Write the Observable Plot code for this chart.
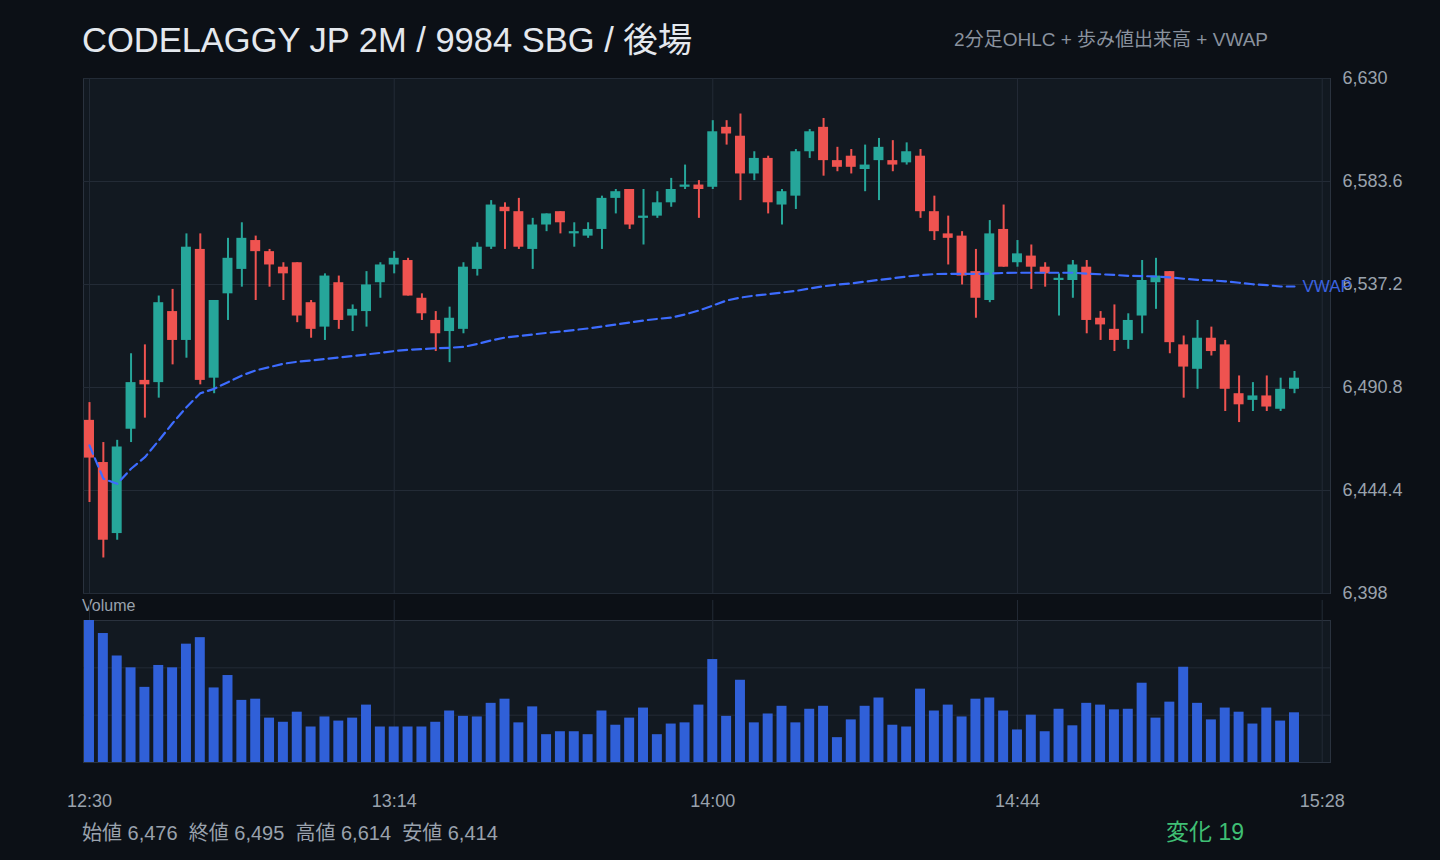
<!DOCTYPE html>
<html>
<head>
<meta charset="utf-8">
<script src="https://cdn.jsdelivr.net/npm/d3@7"></script>
<script src="https://cdn.jsdelivr.net/npm/@observablehq/plot@0.6"></script>
<style>
  html, body { margin: 0; padding: 0; background: #0c1016; }
  #root { position: relative; width: 1440px; height: 860px; background: #0c1016; overflow: hidden;
    font-family: "Liberation Sans", "Noto Sans CJK JP", sans-serif; }
  .abs { position: absolute; white-space: nowrap; line-height: 1; }
  #title { left: 82px; top: 23px; font-size: 34.5px; color: #e4e8ee; }
  #subtitle { right: 172px; top: 30px; font-size: 19px; color: #8a929e; }
  #vollabel { left: 82px; top: 598px; font-size: 16px; color: #9aa2ad; }
  #stats { left: 82px; top: 823px; font-size: 20px; color: #9aa2ad; white-space: pre; }
  #change { right: 196px; top: 821px; font-size: 23px; color: #3fbf74; }
  #pricePanel, #volumePanel { position: absolute; left: 0; }
  #pricePanel { top: 60px; }
  #volumePanel { top: 600px; }
</style>
</head>
<body>
<div id="root">
  <div id="title" class="abs">CODELAGGY JP 2M / 9984 SBG / 後場</div>
  <div id="subtitle" class="abs">2分足OHLC + 歩み値出来高 + VWAP</div>
  <div id="pricePanel"></div>
  <div id="vollabel" class="abs">Volume</div>
  <div id="volumePanel"></div>
  <div id="stats" class="abs"></div>
  <div id="change" class="abs"></div>
</div>
<script>
// ---- data (2-minute bars from 12:30) ----
const opens = [6476,6457,6425,6472,6494,6493,6525,6512,6553,6495,
  6533,6544,6557,6552,6545,6547,6529,6518,6538,6523,
  6525,6538,6546,6548,6531,6521,6516,6517,6544,6554,
  6572,6570,6553,6564,6570,6560,6559,6562,6576,6580,
  6567,6568,6574,6581,6582,6581,6608,6604,6587,6594,
  6573,6577,6597,6608,6593,6595,6589,6593,6593,6592,
  6595,6570,6560,6559,6543,6530,6562,6547,6550,6545,
  6539,6539,6545,6522,6517,6512,6523,6538,6543,6510,
  6499,6513,6510,6488,6485,6487,6481,6490];
const highs = [6484,6466,6467,6506,6510,6532,6535,6560,6560,6530,
  6558,6565,6559,6553,6547,6547,6530,6542,6541,6528,
  6543,6547,6552,6549,6533,6525,6527,6547,6556,6575,
  6574,6576,6567,6569,6570,6565,6565,6577,6580,6580,
  6580,6579,6585,6591,6584,6611,6611,6614,6597,6595,
  6580,6598,6607,6612,6599,6598,6600,6603,6602,6601,
  6598,6577,6568,6561,6553,6566,6573,6557,6555,6547,
  6542,6548,6548,6525,6528,6524,6548,6549,6543,6514,
  6521,6518,6512,6496,6493,6496,6495,6498];
const lows = [6439,6414,6422,6466,6477,6486,6501,6504,6492,6488,
  6521,6536,6530,6536,6530,6520,6513,6512,6517,6516,
  6518,6531,6542,6532,6521,6507,6502,6515,6541,6553,
  6553,6553,6544,6561,6560,6554,6558,6553,6569,6562,
  6555,6567,6572,6580,6567,6580,6600,6575,6584,6569,
  6564,6571,6594,6586,6588,6587,6579,6575,6588,6591,
  6567,6557,6546,6537,6522,6529,6545,6545,6535,6536,
  6523,6531,6515,6512,6507,6508,6515,6526,6506,6486,
  6490,6505,6480,6475,6480,6480,6480,6488];
const closes = [6459,6422,6464,6493,6492,6529,6512,6554,6494,6530,
  6549,6558,6552,6546,6542,6523,6517,6541,6521,6526,
  6537,6546,6549,6532,6524,6515,6522,6545,6554,6573,
  6570,6554,6564,6569,6565,6561,6562,6576,6579,6564,
  6568,6574,6580,6582,6580,6606,6605,6587,6594,6574,
  6579,6597,6606,6593,6590,6590,6591,6599,6591,6597,
  6570,6561,6558,6541,6531,6560,6545,6551,6545,6542,
  6540,6546,6521,6519,6512,6521,6539,6541,6511,6500,
  6513,6507,6490,6483,6487,6482,6490,6495];
// volume, thousand shares
const volumes = [240,218,180,160,127,164,160,200,211,126,
  147,105,107,75,68,85,60,77,70,75,
  97,60,60,60,60,68,87,78,77,100,
  107,67,94,47,52,52,47,87,63,75,
  92,47,65,67,97,174,78,139,67,82,
  95,67,90,95,42,72,95,109,63,60,
  124,87,97,77,107,109,87,55,80,52,
  90,62,100,97,89,90,134,75,102,161,
  100,72,92,85,65,92,70,84];
const vwapValues = [6464.7,6449.7,6447.4,6454.2,6459.4,6466.9,6474.7,6481.9,6488.2,6490.2,
  6493.2,6496.2,6498.5,6500,6501.5,6502.4,6503,6503.6,6504.3,6505,
  6505.7,6506.4,6507.2,6507.8,6508.1,6508.5,6508.7,6509.1,6510.4,6512,
  6513.3,6514,6514.7,6515.4,6516,6516.7,6517.4,6518.3,6519.2,6520.1,
  6521,6521.7,6522.3,6523.7,6525.5,6527.7,6530,6531.3,6532.2,6532.8,
  6533.6,6534.3,6535.4,6536.4,6537.2,6537.7,6538.5,6539.3,6540,6540.8,
  6541.4,6541.9,6542,6542,6542,6542.1,6542.4,6542.5,6542.5,6542.5,
  6542.5,6542.5,6542.1,6541.8,6541.5,6541.1,6541,6540.8,6540.4,6539.8,
  6539.3,6539.1,6538.6,6538,6537.3,6536.9,6536.3,6536.3];
const yTicks = [6398, 6444.4, 6490.8, 6537.2, 6583.6, 6630];
const xTickIndex = [0, 22, 45, 67, 89];
const xTickLabels = ["12:30", "13:14", "14:00", "14:44", "15:28"];
const statLabels = ["始値", "終値", "高値", "安値"];
const statValues = [6476, 6495, 6614, 6414];
const changeLabel = "変化";
const changeValue = 19;

// ---- build table ----
const bars = opens.map((o, i) => ({
  i, open: o, high: highs[i], low: lows[i], close: closes[i],
  volume: volumes[i] * 1000, vwap: vwapValues[i]
}));
const UP = "#26a69a", DOWN = "#ef5350";
const col = d => d.close >= d.open ? UP : DOWN;
const fmt = d3.format(",");
const xDomain = [-0.433, 89.6];
const FONT = '"Liberation Sans", "Noto Sans CJK JP", sans-serif';
const GRID = "#232b36";
const FRAME = "#2a323e";
const PANEL = "#121921";
const halfW = 0.36;

// ---- price panel ----
const priceChart = Plot.plot({
  width: 1440, height: 560,
  marginLeft: 83, marginRight: 110, marginTop: 18, marginBottom: 27,
  style: { background: "transparent", color: "#9aa2ad", fontFamily: FONT, fontSize: "18px" },
  x: { domain: xDomain, axis: null },
  y: { domain: [6398, 6630], axis: null },
  marks: [
    Plot.frame({ fill: PANEL, stroke: FRAME }),
    Plot.gridY(yTicks, { stroke: GRID, strokeOpacity: 1 }),
    Plot.gridX(xTickIndex, { stroke: GRID, strokeOpacity: 1 }),
    Plot.axisY(yTicks, { anchor: "right", tickSize: 0, tickPadding: 12, tickFormat: fmt, fill: "#9aa2ad", fontSize: 18 }),
    Plot.ruleX(bars, { x: "i", y1: "low", y2: "high", stroke: col, strokeWidth: 2 }),
    Plot.rect(bars, { x1: d => d.i - halfW, x2: d => d.i + halfW, y1: "open", y2: "close", fill: col }),
    Plot.line(bars, { x: "i", y: "vwap", stroke: "#3d6cff", strokeWidth: 2.2, strokeDasharray: "9,5" }),
    Plot.text(bars.slice(-1), { x: "i", y: "vwap", text: () => "VWAP", dx: 8, textAnchor: "start", fill: "#3a62e0", fontSize: 17 })
  ]
});
document.getElementById("pricePanel").appendChild(priceChart);

// ---- volume panel ----
const vmax = d3.max(bars, d => d.volume);
const tickLabelOf = new Map(xTickIndex.map((d, k) => [d, xTickLabels[k]]));
const volumeChart = Plot.plot({
  width: 1440, height: 220,
  marginLeft: 83, marginRight: 110, marginTop: 20, marginBottom: 58,
  style: { background: "transparent", color: "#9aa2ad", fontFamily: FONT, fontSize: "18px" },
  x: { domain: xDomain, axis: null },
  y: { domain: [0, vmax], axis: null },
  marks: [
    Plot.frame({ fill: PANEL, stroke: FRAME }),
    Plot.gridY([vmax / 3, vmax * 2 / 3], { stroke: GRID, strokeOpacity: 1 }),
    Plot.ruleX(xTickIndex, { stroke: GRID, insetTop: -27 }),
    Plot.rect(bars, { x1: d => d.i - halfW, x2: d => d.i + halfW, y1: 0, y2: "volume", fill: "#3060d8" }),
    Plot.axisX(xTickIndex, { anchor: "bottom", tickSize: 0, tickPadding: 32, tickFormat: d => tickLabelOf.get(d), fill: "#9aa2ad", fontSize: 18 })
  ]
});
document.getElementById("volumePanel").appendChild(volumeChart);

// ---- footer ----
document.getElementById("stats").textContent =
  statLabels.map((l, k) => `${l} ${fmt(statValues[k])}`).join("  ");
document.getElementById("change").textContent = `${changeLabel} ${changeValue}`;
</script>
</body>
</html>
